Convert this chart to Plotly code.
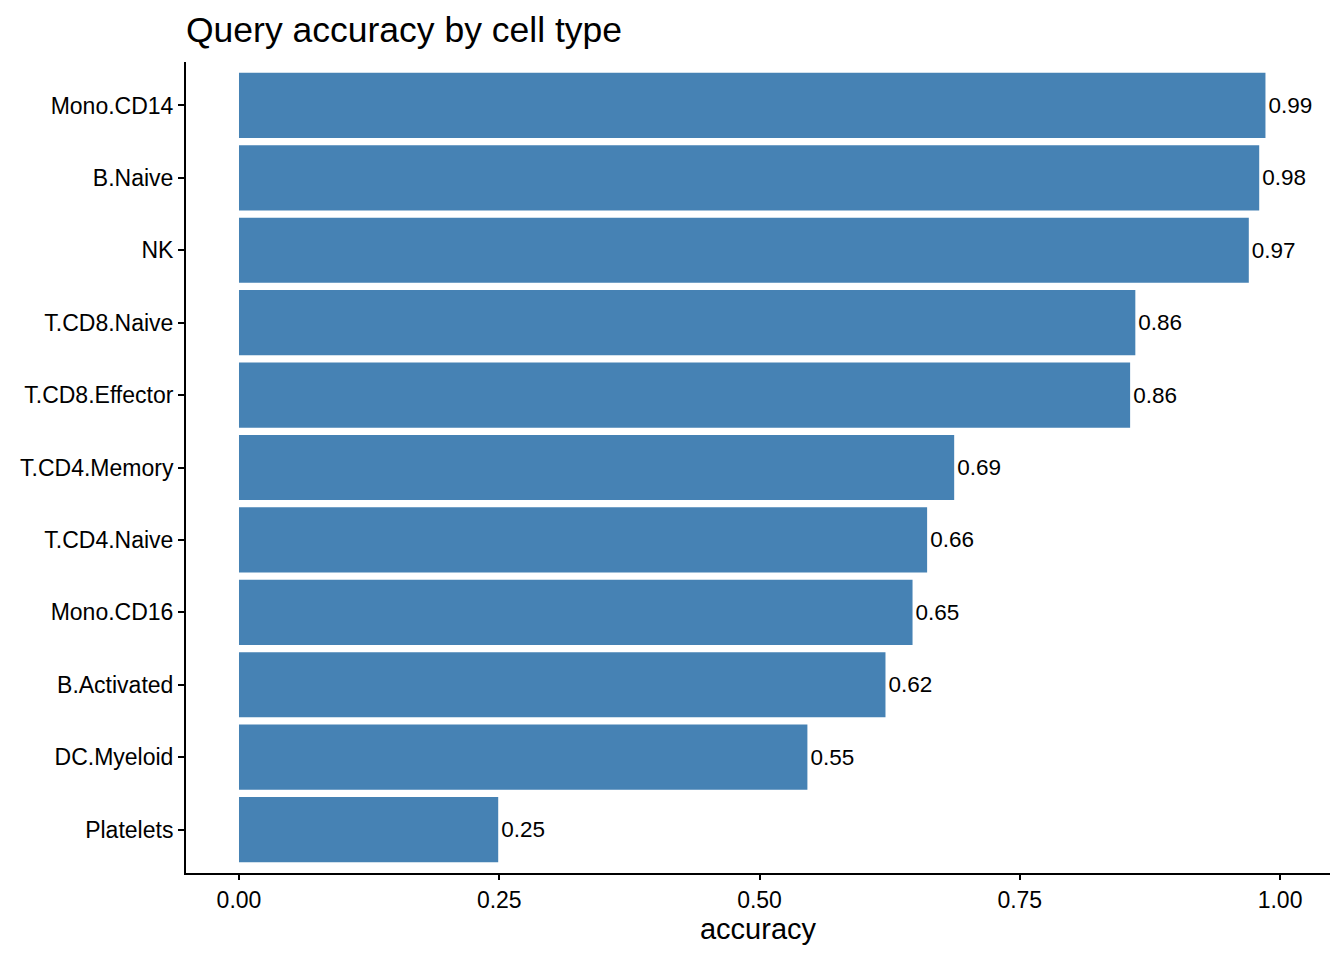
import plotly.graph_objects as go

cell_types = ["Platelets", "DC.Myeloid", "B.Activated", "Mono.CD16", "T.CD4.Naive",
              "T.CD4.Memory", "T.CD8.Effector", "T.CD8.Naive", "NK", "B.Naive", "Mono.CD14"]
accuracy = [0.249, 0.546, 0.621, 0.647, 0.661, 0.687, 0.856, 0.861, 0.970, 0.980, 0.986]
x_ticks = [0.0, 0.25, 0.5, 0.75, 1.0]
x_tick_labels = ["0.00", "0.25", "0.50", "0.75", "1.00"]

FONT = "Liberation Sans, Arial, Helvetica, sans-serif"

fig = go.Figure(go.Bar(
    x=accuracy,
    y=cell_types,
    orientation="h",
    marker=dict(color="#4682B4", line=dict(width=0)),
    width=0.9,
    text=[f"{v:.2f}" for v in accuracy],
    textposition="outside",
    constraintext="none",
    cliponaxis=False,
    textfont=dict(family=FONT, size=22.5, color="black"),
))

fig.update_layout(
    width=1344, height=960,
    margin=dict(l=186, r=14, t=62, b=87),
    paper_bgcolor="white", plot_bgcolor="white",
    showlegend=False,
    title=dict(text="Query accuracy by cell type", x=186/1344, xanchor="left",
               y=1-30/960, yanchor="middle",
               font=dict(family=FONT, size=35.5, color="black")),
    font=dict(family=FONT, color="black"),
    xaxis=dict(
        range=[-0.0509, 1.048],
        tickvals=x_ticks, ticktext=x_tick_labels,
        showgrid=False, zeroline=False,
        showline=True, linecolor="black", linewidth=2,
        ticks="outside", ticklen=5, tickwidth=2, tickcolor="black",
        tickfont=dict(family=FONT, size=23, color="black"),
        title=dict(text="accuracy", font=dict(family=FONT, size=29, color="black"), standoff=5),
    ),
    yaxis=dict(
        range=[-0.6, 10.6],
        showgrid=False, zeroline=False,
        showline=True, linecolor="black", linewidth=2,
        ticks="outside", ticklen=6, tickwidth=2, tickcolor="black",
        tickfont=dict(family=FONT, size=23, color="black"),
        categoryorder="array", categoryarray=cell_types,
    ),
)

fig.write_html("out.html")
